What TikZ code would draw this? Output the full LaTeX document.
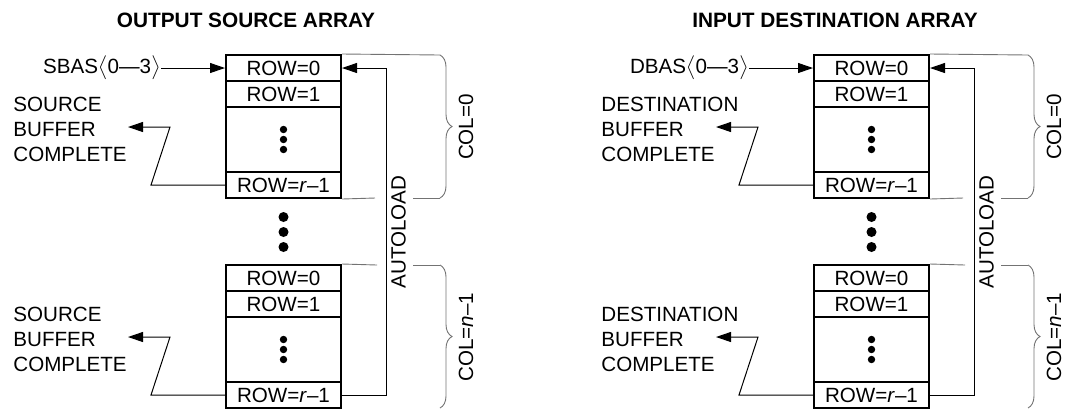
\documentclass[tikz,border=0pt]{standalone}
\usepackage{fontspec}
\setmainfont{Liberation Sans}
\usetikzlibrary{arrows.meta,decorations.pathreplacing}

\tikzset{
  rowbox/.style={draw,line width=1pt,minimum width=57.5pt,minimum height=13pt,inner sep=0pt},
  dotbox/.style={rowbox,minimum height=32.5pt},
  feed/.style={line width=0.5pt,-{Triangle[length=7.5pt,width=5pt]}},
  guide/.style={black!55,line width=0.45pt},
  colbrace/.style={guide,decorate,decoration={brace,amplitude=6pt}},
  title/.style={font=\fontsize{10.4pt}{12.5pt}\selectfont\bfseries}
}

\begin{document}
\begin{tikzpicture}[x=0.5pt,y=-0.5pt,font=\fontsize{10.3pt}{12.5pt}\selectfont]
    \useasboundingbox (0,0) rectangle (1069,409);
    \node[title] (stitle) at (246,20) {OUTPUT SOURCE ARRAY};
    \node[title] (dtitle) at (835,20) {INPUT DESTINATION ARRAY};
    \foreach \side/\off/\word/\bas in {S/0/SOURCE/SBAS, D/588/DESTINATION/DBAS} {
        \foreach \blk/\ty/\colname in {a/55/{COL=0}, b/265/{COL=\textit{n}–1}} {
            \node[rowbox] (\side\blk0) at (283.5+\off,\ty+13) {ROW=0};
            \node[rowbox] (\side\blk1) at (283.5+\off,\ty+39) {ROW=1};
            \node[dotbox] (\side\blk d) at (283.5+\off,\ty+84.5) {};
            \node[rowbox] (\side\blk r) at (283.5+\off,\ty+130) {ROW=\textit{r}–1};
            \foreach \y in {74.5,84.5,94.5} {
                \fill (283.5+\off,\ty+\y) circle[radius=3.7];
            }
            \node[anchor=west,align=left,inner sep=0pt] (\side\blk buf) at (13+\off,\ty+74) {\word\\BUFFER\\COMPLETE};
            \coordinate (\side\blk tip) at (128+\off,\ty+72);
            \draw[feed] (\side\blk r.west) -- ++(-74,0) -- (170+\off,\ty+72) -- (\side\blk tip);
            \draw[colbrace] (440+\off,\ty) -- (440+\off,\ty+143);
            \node[rotate=90,inner sep=0pt] (\side\blk col) at (466+\off,\ty+72) {\colname};
        }
        \foreach \y in {217,232,247} {
            \fill (283.5+\off,\y) circle[radius=5];
        }
        \node[anchor=east,inner sep=0pt] (\side bas) at (161+\off,68) {\bas$\big\langle$0—3$\big\rangle$};
        \draw[feed] (\side bas.east |- \side a0) -- (\side a0.west);
        \draw[feed] (\side br.east) -- ++(44,0) |- (\side a0.east);
        \node[rotate=90,inner sep=0pt] (\side load) at (398.5+\off,232) {AUTOLOAD};
        \draw[guide] (\side a0.north east) -- (440+\off,55);
        \draw[guide] (\side ar.south east) -- (375+\off,198);
        \draw[guide] (413+\off,198) -- (440+\off,198);
        \draw[guide] (\side b0.north east) -- (377+\off,265);
        \draw[guide] (413+\off,265) -- (440+\off,265);
    }
\end{tikzpicture}
\end{document}
